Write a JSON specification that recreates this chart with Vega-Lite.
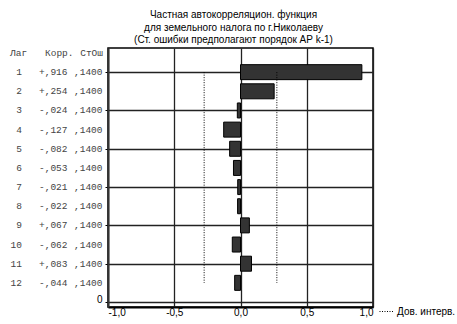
{
  "$schema": "https://vega.github.io/schema/vega-lite/v6.json",
  "width": 265,
  "height": 259,
  "autosize": {"type": "none"},
  "padding": {"left": 108, "top": 48, "right": 84, "bottom": 17},
  "background": "white",
  "title": {
    "text": ["Частная автокорреляцион. функция", "для земельного налога по г.Николаеву", "(Ст. ошибки предполагают порядок АР k-1)"],
    "font": "Liberation Sans",
    "fontSize": 10,
    "fontWeight": "normal",
    "color": "#000",
    "lineHeight": 12.5,
    "anchor": "middle",
    "dx": -7,
    "offset": 3
  },
  "config": {
    "view": {"stroke": "#000", "strokeWidth": 1.5}
  },
  "datasets": {
    "acf": [
      {"lag": 1, "r": 0.916, "rLabel": "+,916", "seLabel": ",1400"},
      {"lag": 2, "r": 0.254, "rLabel": "+,254", "seLabel": ",1400"},
      {"lag": 3, "r": -0.024, "rLabel": "-,024", "seLabel": ",1400"},
      {"lag": 4, "r": -0.127, "rLabel": "-,127", "seLabel": ",1400"},
      {"lag": 5, "r": -0.082, "rLabel": "-,082", "seLabel": ",1400"},
      {"lag": 6, "r": -0.053, "rLabel": "-,053", "seLabel": ",1400"},
      {"lag": 7, "r": -0.021, "rLabel": "-,021", "seLabel": ",1400"},
      {"lag": 8, "r": -0.022, "rLabel": "-,022", "seLabel": ",1400"},
      {"lag": 9, "r": 0.067, "rLabel": "+,067", "seLabel": ",1400"},
      {"lag": 10, "r": -0.062, "rLabel": "-,062", "seLabel": ",1400"},
      {"lag": 11, "r": 0.083, "rLabel": "+,083", "seLabel": ",1400"},
      {"lag": 12, "r": -0.044, "rLabel": "-,044", "seLabel": ",1400"}
    ],
    "ci": [
      {"ci": -0.2744, "s": "Дов. интерв."},
      {"ci": 0.2744, "s": "Дов. интерв."}
    ],
    "header": [
      {"lag": 0, "c1": "Лаг", "c2": "Корр.", "c3": "СтОш"}
    ]
  },
  "layer": [
    {
      "data": {"name": "acf"},
      "mark": {"type": "bar", "fill": "#333", "stroke": "#000", "strokeWidth": 1, "size": 15},
      "encoding": {
        "x": {
          "field": "r", "type": "quantitative",
          "scale": {"domain": [-1, 1], "nice": false, "zero": false},
          "axis": {
            "values": [-1, -0.5, 0, 0.5, 1],
            "labelExpr": "replace(replace(format(datum.value, '.1f'), '.', ','), '\u2212', '-')",
            "ticks": false, "grid": true, "gridColor": "#222", "gridWidth": 1.3,
            "domainColor": "#000", "domainWidth": 2,
            "labelFont": "Liberation Sans", "labelFontSize": 10, "labelColor": "#000",
            "labelPadding": 0, "title": null
          }
        },
        "x2": {"datum": 0},
        "y": {
          "field": "lag", "type": "quantitative",
          "scale": {"domain": [0, 13], "nice": false, "zero": false, "reverse": true},
          "axis": {
            "values": [1, 2, 3, 4, 5, 6, 7, 8, 9, 10, 11, 12, 13],
            "labelExpr": "datum.value == 13 ? '0' : ''",
            "ticks": true, "tickSize": 3, "tickColor": "#000",
            "grid": true, "gridColor": "#222", "gridWidth": 1.3,
            "domainColor": "#333", "domainWidth": 2,
            "labelFont": "Liberation Sans", "labelFontSize": 10, "labelColor": "#000",
            "labelPadding": 3, "labelOffset": -3, "title": null
          }
        }
      }
    },
    {
      "data": {"name": "ci"},
      "mark": {"type": "rule", "color": "#000", "strokeWidth": 1},
      "encoding": {
        "x": {"field": "ci", "type": "quantitative"},
        "y": {"datum": 1},
        "y2": {"datum": 12},
        "strokeDash": {
          "field": "s", "type": "nominal",
          "scale": {"range": [[1, 1.5]]},
          "legend": {
            "title": null, "orient": "none", "legendX": 271, "legendY": 256,
            "symbolType": "stroke", "symbolSize": 196, "symbolStrokeWidth": 1,
            "symbolStrokeColor": "#000",
            "labelFont": "Liberation Sans", "labelFontSize": 10, "labelColor": "#000",
            "labelOffset": 3, "padding": 0
          }
        }
      }
    },
    {
      "data": {"name": "acf"},
      "mark": {"type": "text", "align": "right", "dx": -86, "font": "Liberation Mono", "fontSize": 9.5, "color": "#444"},
      "encoding": {
        "x": {"datum": -1},
        "y": {"field": "lag", "type": "quantitative"},
        "text": {"field": "lag"}
      }
    },
    {
      "data": {"name": "acf"},
      "mark": {"type": "text", "align": "left", "dx": -69, "font": "Liberation Mono", "fontSize": 9.5, "color": "#444"},
      "encoding": {
        "x": {"datum": -1},
        "y": {"field": "lag", "type": "quantitative"},
        "text": {"field": "rLabel"}
      }
    },
    {
      "data": {"name": "acf"},
      "mark": {"type": "text", "align": "left", "dx": -34, "font": "Liberation Mono", "fontSize": 9.5, "color": "#444"},
      "encoding": {
        "x": {"datum": -1},
        "y": {"field": "lag", "type": "quantitative"},
        "text": {"field": "seLabel"}
      }
    },
    {
      "data": {"name": "header"},
      "mark": {"type": "text", "align": "left", "dx": -98, "font": "Liberation Mono", "fontSize": 9.5, "color": "#444"},
      "encoding": {"x": {"datum": -1}, "y": {"field": "lag", "type": "quantitative"}, "text": {"field": "c1"}}
    },
    {
      "data": {"name": "header"},
      "mark": {"type": "text", "align": "left", "dx": -63, "font": "Liberation Mono", "fontSize": 9.5, "color": "#444"},
      "encoding": {"x": {"datum": -1}, "y": {"field": "lag", "type": "quantitative"}, "text": {"field": "c2"}}
    },
    {
      "data": {"name": "header"},
      "mark": {"type": "text", "align": "right", "dx": -5, "font": "Liberation Mono", "fontSize": 9.5, "color": "#444"},
      "encoding": {"x": {"datum": -1}, "y": {"field": "lag", "type": "quantitative"}, "text": {"field": "c3"}}
    }
  ]
}
